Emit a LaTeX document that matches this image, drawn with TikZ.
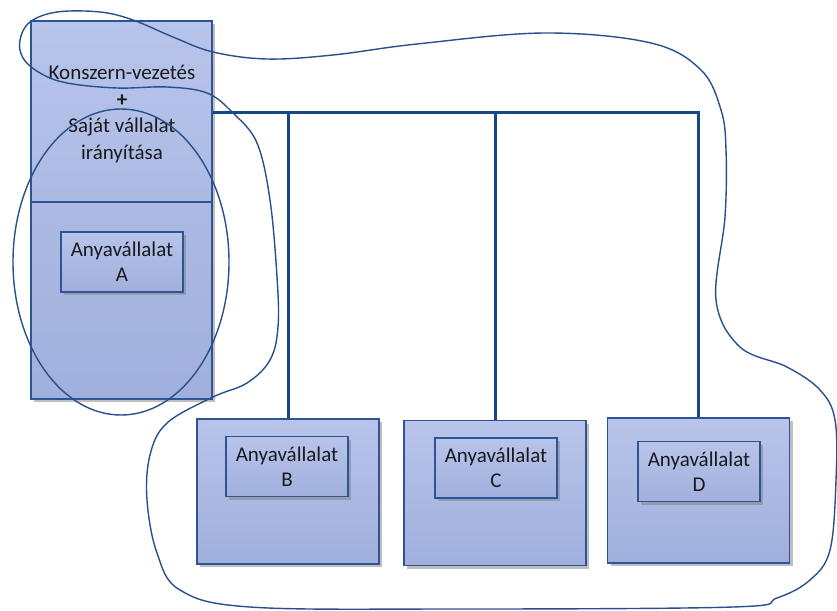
\documentclass[tikz,border=0pt]{standalone}
\usepackage{fontspec}
\setmainfont{Carlito}
\usetikzlibrary{shadows,positioning}

\definecolor{boxtop}{RGB}{184,196,234}
\definecolor{boxbot}{RGB}{160,175,220}
\definecolor{boxline}{RGB}{45,85,150}
\definecolor{busblue}{RGB}{22,72,135}
\definecolor{penblue}{RGB}{40,80,140}
\definecolor{textgray}{RGB}{25,25,30}

\begin{document}
\begin{tikzpicture}
     [x=1pt, y=-1pt,
      every node/.style={font=\fontsize{21}{25}\selectfont, text=textgray},
      unit/.style={draw=boxline, line width=1.3pt, top color=boxtop, bottom color=boxbot,
                   drop shadow={shadow xshift=3pt, shadow yshift=-3pt, fill=black!50}},
      outer/.style={unit, minimum width=182pt, minimum height=145pt},
      inner/.style={unit, minimum width=122pt, minimum height=60pt, align=center, inner sep=0pt},
      bus/.style={draw=busblue, line width=3pt},
      hand/.style={draw=penblue, line width=1.4pt}]
   \useasboundingbox (0,0) rectangle (837,610);
   % parent company, left column
   \node (PA) [outer, minimum width=181pt, minimum height=378pt] at (121.5,210) {};
   \coordinate (cut) at (121.5,202);
   \draw[boxline, line width=1.3pt] (PA.west |- cut) -- (PA.east |- cut);
   \node (TOP) [align=center, font=\fontsize{21}{26.5}\selectfont] at (122,114)
     {Konszern-vezetés\\\textbf{+}\\Saját vállalat\\irányítása};
   \node (A) [inner] at (122,262) {Anyavállalat\\A};
   % subsidiaries
   \node (B) [outer] at (288,491.5) {};
   \node (C) [outer] at (495,493) {};
   \node (D) [outer] at (698.5,490.5) {};
   \node (BI) [inner] at (287,466.5) {Anyavállalat\\B};
   \node (CI) [inner] at (496,468) {Anyavállalat\\C};
   \node (DI) [inner] at (699,471.5) {Anyavállalat\\D};
   % bus lines
   \coordinate (bus) at (212,112);
   \draw[bus] (PA.east |- bus) -| (D.north);
   \draw[bus] (B.north |- bus) -- (B.north);
   \draw[bus] (C.north |- bus) -- (C.north);
   % hand drawn marks
   \draw[hand] (121,262) ellipse [x radius=108pt, y radius=153pt];
   \draw[hand] plot[smooth cycle, tension=0.6] coordinates {
     (57,12) (100,12) (133,20) (173,37) (213,52) (267,59) (333,55) (417,44)
     (545,33) (651,43) (701,70) (721,110) (726,150) (725,217) (716,300)
     (740,347) (787,367) (820,390) (835,420) (836,480) (830,550) (810,580)
     (777,598) (733,607) (450,609) (250,607) (180,590) (157,553) (147,500)
     (150,455) (167,423) (213,397) (247,383) (270,360) (278,327) (277,277)
     (270,200) (257,143) (233,113) (207,93) (167,87) (117,88) (67,83)
     (40,73) (23,58) (20,40) (30,22)};
\end{tikzpicture}
\end{document}
